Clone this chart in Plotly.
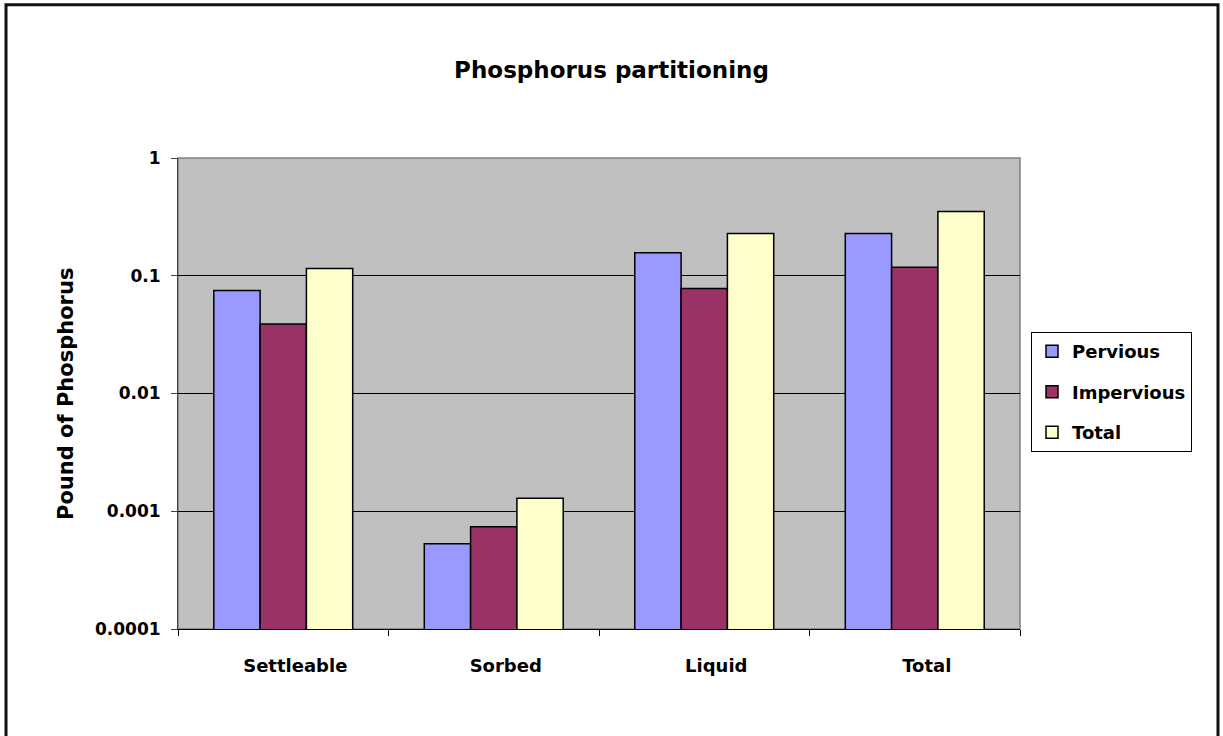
import plotly.graph_objects as go

categories = ["Settleable", "Sorbed", "Liquid", "Total"]
pervious = [0.075, 0.00053, 0.157, 0.229]
impervious = [0.039, 0.00074, 0.078, 0.118]
total = [0.115, 0.00129, 0.229, 0.352]
series_names = ["Pervious", "Impervious", "Total"]
series_colors = ["#9999FF", "#993366", "#FFFFCC"]
ytick_vals = [0.0001, 0.001, 0.01, 0.1, 1]
ytick_text = ["0.0001", "0.001", "0.01", "0.1", "1"]

W, H = 1223, 736
L, R, T, B = 178, 1020, 157.5, 629.5
pw, ph = R - L, B - T

FONT = "DejaVu Sans, Arial, sans-serif"

fig = go.Figure()
for i, (name, vals) in enumerate(zip(series_names, [pervious, impervious, total])):
    fig.add_trace(go.Bar(
        x=categories, y=vals, name=name,
        marker=dict(color=series_colors[i], line=dict(color="black", width=1.5)),
        legendgroup=name,
    ))

def px_x(x):
    return (x - L) / pw

def px_y(y):
    return (B - y) / ph

def bf(size):
    return dict(size=size, family=FONT, color="black", weight="bold")

fig.update_layout(
    width=W, height=H,
    margin=dict(l=L, r=W - R, t=T, b=H - B, pad=0),
    paper_bgcolor="white",
    plot_bgcolor="#C0C0C0",
    barmode="group",
    bargap=0.34,
    bargroupgap=0,
    font=dict(family=FONT, color="black"),
    title=dict(text="Phosphorus partitioning", x=0.5, xref="container",
               y=1 - 70 / H, yref="container", yanchor="middle", xanchor="center",
               font=bf(23)),
    showlegend=True,
    legend=dict(x=px_x(1031), y=px_y(332), xanchor="left", yanchor="top",
                bordercolor="black", borderwidth=1, bgcolor="white",
                font=bf(18),
                traceorder="grouped", tracegroupgap=14,
                itemwidth=30),
    xaxis=dict(
        showline=True, linecolor="black", linewidth=1,
        ticks="outside", ticklen=6, tickcolor="black", tickson="boundaries",
        tickfont=bf(18),
        ticklabelstandoff=20,
        ticklabelshift=12,
        showgrid=False, zeroline=False,
    ),
    yaxis=dict(
        type="log", range=[-4, 0],
        tickvals=ytick_vals, ticktext=ytick_text,
        tickfont=bf(17),
        showline=True, linecolor="#404040", linewidth=1,
        ticks="outside", ticklen=6, tickcolor="#404040",
        ticklabelstandoff=7,
        showgrid=True, gridcolor="black", gridwidth=1,
        zeroline=False,
    ),
    shapes=[
        dict(type="rect", xref="paper", yref="paper", x0=0, x1=1, y0=0, y1=1,
             line=dict(color="#808080", width=1.5), layer="below"),
        dict(type="rect", xref="paper", yref="paper",
             x0=px_x(6), x1=px_x(1218), y0=px_y(745), y1=px_y(4),
             line=dict(color="#111111", width=3)),
    ],
    annotations=[
        dict(text="Pound of Phosphorus", xref="paper", yref="paper",
             x=px_x(66), y=px_y(394), textangle=-90, showarrow=False,
             xanchor="center", yanchor="middle",
             font=bf(21)),
    ],
)

fig.write_html("out.html", config={"displayModeBar": False},
               post_script="document.body.style.margin='0';document.body.style.overflow='hidden';")
